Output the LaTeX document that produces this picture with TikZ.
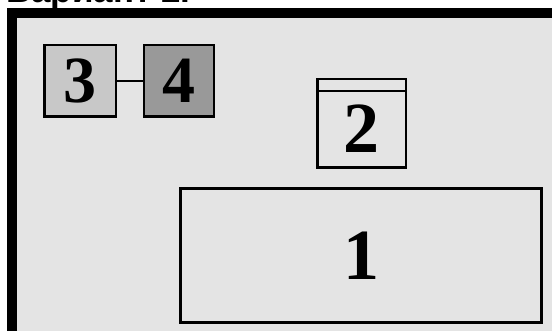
\documentclass[tikz,border=0pt]{standalone}
\usepackage{fontspec}
\setmainfont{Liberation Serif}
\newfontfamily\headfont{Liberation Sans}
\usetikzlibrary{positioning}
\definecolor{panelgray}{HTML}{E4E4E4}
\definecolor{lightblock}{HTML}{C8C8C8}
\definecolor{darkblock}{HTML}{999999}

\begin{document}
\begin{tikzpicture}[x=1pt, y=-1pt,
  block/.style={draw, line width=2.5pt, inner sep=0pt,
    font=\fontsize{66}{66}\selectfont\bfseries},
  bigblock/.style={block, font=\fontsize{72}{72}\selectfont\bfseries}]
  \useasboundingbox (0,0) rectangle (552,331);
  \clip (0,0) rectangle (552,331);

  % Heading, cut off at the top
  \node[anchor=base west, inner sep=0pt,
    font=\headfont\bfseries\fontsize{35}{35}\selectfont] (title) at (6,2.5) {Вариант 2.};

  % Room
  \draw[line width=10pt, fill=panelgray] (12,13) rectangle (600,400);

  % Small blocks
  \node[block, fill=lightblock, minimum width=71.5pt, minimum height=71.5pt] (b3) at (80,81) {3};
  \node[block, fill=darkblock, minimum width=70pt, minimum height=71.5pt] (b4) at (179,81) {4};
  \draw[line width=2pt] (b3) -- (b4);

  % Block with a strip on top
  \node[bigblock, minimum width=88.5pt, minimum height=88.5pt, text height=58pt] (b2) at (361.5,123.5) {2};
  \draw[line width=2pt] ([yshift=-13pt]b2.north west) -- ([yshift=-13pt]b2.north east);

  % Large block
  \node[bigblock, line width=3pt, minimum width=361pt, minimum height=134pt] (b1) at (361,255.5) {1};
\end{tikzpicture}
\end{document}
